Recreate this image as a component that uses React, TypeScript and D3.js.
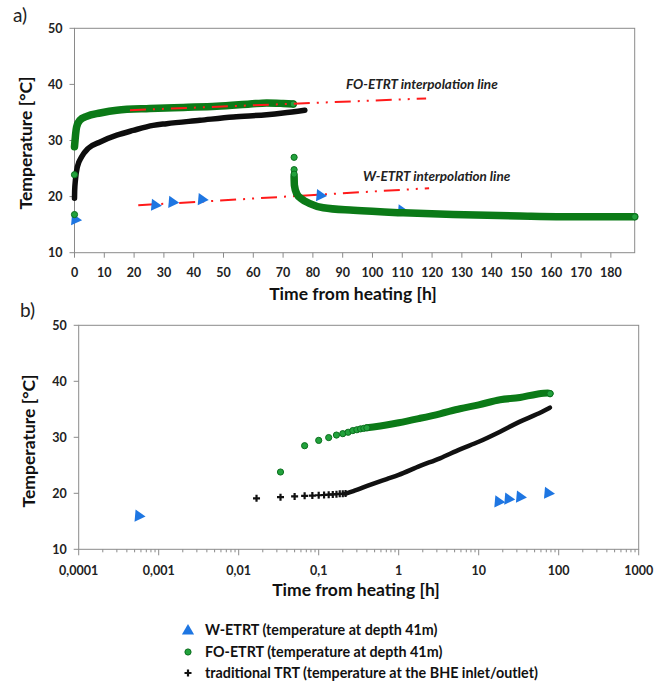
import React from "react";
import * as d3 from "d3";

// ---------- DATA ----------
// Panel a) linear time axis [h]
const xTicksA = [0, 10, 20, 30, 40, 50, 60, 70, 80, 90, 100, 110, 120, 130, 140, 150, 160, 170, 180];
const yTicks = [10, 20, 30, 40, 50];

const trtA: [number, number][] = [
  [0, 19.7], [0.05, 21.0], [0.3, 22.9], [0.95, 25.3], [2.4, 27.1], [4.6, 28.6], [8.6, 29.75],
  [14.2, 30.95], [19.7, 31.8], [26.4, 32.7], [30.9, 33.0], [42.1, 33.6], [53.3, 34.2],
  [64.5, 34.6], [70, 34.9], [77.3, 35.4],
];
const foIsolatedA: [number, number][] = [[0, 16.8], [0, 23.9], [73.7, 27.0], [73.7, 24.8], [73.7, 24.0]];
const foHeatA: [number, number][] = [
  [0, 28.9], [0.2, 30.1], [0.4, 31.25], [0.7, 32.4], [1.8, 33.6], [4.1, 34.3], [8.6, 34.9],
  [14.2, 35.4], [25.3, 35.7], [36.5, 35.9], [47.7, 36.1], [58.9, 36.5], [64.5, 36.7], [70, 36.6], [73.4, 36.5],
];
const foRecoveryA: [number, number][] = [
  [73.7, 23.6], [73.8, 22.0], [74.6, 20.5], [76.2, 19.6], [79, 18.75], [83.5, 18.0], [93.6, 17.55],
  [110.3, 17.1], [127.1, 16.8], [149.5, 16.55], [171.9, 16.4], [188, 16.4],
];
const wA: [number, number][] = [[0.2, 15.9], [27, 18.5], [32.8, 19.0], [42.7, 19.5], [82.4, 20.2], [109.8, 17.5]];
const foLineA: [number, number][] = [[18.6, 35.4], [118, 37.5]];
const wLineA: [number, number][] = [[21.4, 18.45], [119, 21.5]];

// Panel b) log time axis [h]
const xTicksB = [0.0001, 0.001, 0.01, 0.1, 1, 10, 100, 1000];
const xTickLabelsB = ["0,0001", "0,001", "0,01", "0,1", "1", "10", "100", "1000"];

const wB: [number, number][] = [[0.00056, 15.95], [17.6, 18.5], [23.4, 19.0], [32.8, 19.35], [73.5, 20.05]];
const foPointsB: [number, number][] = [
  [0.0333, 23.8], [0.0667, 28.5], [0.1, 29.45], [0.1333, 29.95], [0.1667, 30.4], [0.2, 30.65],
  [0.2333, 30.9], [0.2667, 31.2], [0.3, 31.35], [0.3333, 31.5], [0.3667, 31.6], [0.4, 31.7],
];
const foBandB: [number, number][] = [
  [0.4, 31.7], [0.48, 31.85], [0.7, 32.2], [1, 32.6], [1.85, 33.4], [3.28, 34.2], [5.84, 35.1],
  [10, 35.8], [18.5, 36.7], [32.8, 37.1], [53, 37.7], [73, 37.9], [78, 37.8],
];
const trtPlusB: [number, number][] = [
  [0.0167, 19.1], [0.0333, 19.3], [0.05, 19.45], [0.0667, 19.55], [0.0833, 19.6], [0.1, 19.65],
  [0.1167, 19.7], [0.1333, 19.75], [0.15, 19.8], [0.1667, 19.85], [0.1833, 19.9], [0.2, 19.9], [0.2167, 19.95],
];
const trtLineB: [number, number][] = [
  [0.2167, 19.95], [0.271, 20.4], [0.438, 21.5], [0.708, 22.55], [1, 23.3], [1.85, 24.9], [3.28, 26.25],
  [5.84, 27.85], [10, 29.2], [18.5, 31.0], [32.8, 32.8], [53, 34.1], [77.6, 35.3],
];

const legendItems = [
  "W-ETRT (temperature at depth 41m)",
  "FO-ETRT (temperature at depth 41m)",
  "traditional TRT (temperature at the BHE inlet/outlet)",
];

// ---------- STYLE ----------
const FONT = "Lato, 'Open Sans', sans-serif";
const GRAY = "#8a8a8a";
const BLUE = "#1e76e2";
const GREEN_FILL = "#22a23c";
const GREEN_STROKE = "#0b6f1e";
const GREEN_BAND = "#0b7a17";
const RED = "#ff1a1a";
const TICK_FS = 12.5;
const TITLE_FS = 17.5;

const xA = d3.scaleLinear().domain([0, 188]).range([74.5, 634.7]);
const yA = d3.scaleLinear().domain([10, 50]).range([252.7, 28.3]);
const xB = d3.scaleLog().domain([1e-4, 1e3]).range([78.7, 638.7]);
const yB = d3.scaleLinear().domain([10, 50]).range([549.3, 325.3]);

const triPath = d3.symbol().type(d3.symbolTriangle).size(64)()!;

function Tri({ x, y, rot = 95 }: { x: number; y: number; rot?: number }) {
  return <path d={triPath} transform={`translate(${x},${y}) rotate(${rot})`} fill={BLUE} />;
}
function Plus({ x, y }: { x: number; y: number }) {
  return (
    <path d={`M${x - 3.5},${y}H${x + 3.5}M${x},${y - 3.5}V${y + 3.5}`} stroke="#111" strokeWidth={2.2} />
  );
}
function Dot({ x, y }: { x: number; y: number }) {
  return <circle cx={x} cy={y} r={3.1} fill={GREEN_FILL} stroke={GREEN_STROKE} strokeWidth={1} />;
}

function YAxis({ y, x0 }: { y: any; x0: number }) {
  return (
    <g>
      {yTicks.map((t) => (
        <g key={t}>
          <line x1={x0 - 5} x2={x0} y1={y(t)} y2={y(t)} stroke={GRAY} />
          <text x={x0 - 12} y={y(t)} dy="0.35em" textAnchor="end" fontSize={TICK_FS} fontWeight={700} fill="#222">
            {t}
          </text>
        </g>
      ))}
    </g>
  );
}

export default function App() {
  const lineA = d3.line<[number, number]>().x((d) => xA(d[0])).y((d) => yA(d[1])).curve(d3.curveMonotoneX);
  const straightA = d3.line<[number, number]>().x((d) => xA(d[0])).y((d) => yA(d[1]));
  const lineB = d3.line<[number, number]>().x((d) => xB(d[0])).y((d) => yB(d[1])).curve(d3.curveMonotoneX);

  const minorB: number[] = [];
  xTicksB.slice(0, -1).forEach((dec) => {
    for (let k = 2; k <= 9; k++) minorB.push(dec * k);
  });

  const [ax0, ax1] = xA.range();
  const [ay1, ay0] = yA.range();
  const [bx0, bx1] = xB.range();
  const [by1, by0] = yB.range();

  return (
    <svg width={668} height={684} style={{ position: "absolute", left: 0, top: 0, fontFamily: FONT }}>
      <rect width={668} height={684} fill="#fff" />

      {/* ---------- Panel a ---------- */}
      <text x={13} y={22} fontSize={19} fill="#222">a)</text>
      <rect x={ax0} y={ay0} width={ax1 - ax0} height={ay1 - ay0} fill="none" stroke={GRAY} />
      {xTicksA.map((t) => (
        <g key={t}>
          <line x1={xA(t)} x2={xA(t)} y1={ay1} y2={ay1 + 5} stroke={GRAY} />
          <text x={xA(t)} y={277} textAnchor="middle" fontSize={TICK_FS} fontWeight={700} fill="#222">{t}</text>
        </g>
      ))}
      <YAxis y={yA} x0={ax0} />
      <text transform={`translate(32,143) rotate(-90)`} textAnchor="middle" fontSize={TITLE_FS} fontWeight={700} fill="#111">
        Temperature [°C]
      </text>
      <text x={353} y={300} textAnchor="middle" fontSize={TITLE_FS} fontWeight={700} fill="#111">
        Time from heating [h]
      </text>

      {/* W-ETRT interpolation line */}
      <path d={straightA(wLineA)!} stroke={RED} strokeWidth={2} fill="none" strokeDasharray="16 7 2 7 2 7" />
      {wA.map((d, i) => <Tri key={i} x={xA(d[0])} y={yA(d[1])} />)}
      {/* traditional TRT */}
      <path d={lineA(trtA)!} stroke="#0d0d0d" strokeWidth={5.5} fill="none" strokeLinecap="round" />
      {/* FO-ETRT */}
      <path d={lineA(foHeatA)!} stroke={GREEN_BAND} strokeWidth={7.5} fill="none" strokeLinecap="round" />
      <path d={lineA(foRecoveryA)!} stroke={GREEN_BAND} strokeWidth={7.5} fill="none" strokeLinecap="round" />
      {foIsolatedA.map((d, i) => <Dot key={i} x={xA(d[0])} y={yA(d[1])} />)}
      <Dot x={xA(188)} y={yA(16.4)} />
      <Dot x={xA(73.4)} y={yA(36.5)} />
      {/* FO-ETRT interpolation line */}
      <path d={straightA(foLineA)!} stroke={RED} strokeWidth={2} fill="none" strokeDasharray="16 7 2 7 2 7" />
      <text x={346} y={89} fontSize={13.5} fontWeight={700} fontStyle="italic" fill="#222">FO-ETRT interpolation line</text>
      <text x={363} y={181} fontSize={13.5} fontWeight={700} fontStyle="italic" fill="#222">W-ETRT interpolation line</text>

      {/* ---------- Panel b ---------- */}
      <text x={20} y={317} fontSize={19} fill="#222">b)</text>
      <rect x={bx0} y={by0} width={bx1 - bx0} height={by1 - by0} fill="none" stroke={GRAY} />
      {minorB.map((t, i) => (
        <line key={i} x1={xB(t)} x2={xB(t)} y1={by1} y2={by1 + 3} stroke={GRAY} />
      ))}
      {xTicksB.map((t, i) => (
        <g key={t}>
          <line x1={xB(t)} x2={xB(t)} y1={by1} y2={by1 + 6} stroke={GRAY} />
          <text x={xB(t)} y={575} textAnchor="middle" fontSize={TICK_FS} fontWeight={700} fill="#222">{xTickLabelsB[i]}</text>
        </g>
      ))}
      <YAxis y={yB} x0={bx0} />
      <text transform={`translate(35,441) rotate(-90)`} textAnchor="middle" fontSize={TITLE_FS} fontWeight={700} fill="#111">
        Temperature [°C]
      </text>
      <text x={356} y={596} textAnchor="middle" fontSize={TITLE_FS} fontWeight={700} fill="#111">
        Time from heating [h]
      </text>

      {trtPlusB.map((d, i) => <Plus key={i} x={xB(d[0])} y={yB(d[1])} />)}
      <path d={lineB(trtLineB)!} stroke="#111" strokeWidth={4.5} fill="none" strokeLinecap="round" />
      <path d={lineB(foBandB)!} stroke={GREEN_BAND} strokeWidth={7} fill="none" strokeLinecap="round" />
      {foPointsB.map((d, i) => <Dot key={i} x={xB(d[0])} y={yB(d[1])} />)}
      <Dot x={xB(78)} y={yB(37.8)} />
      {wB.map((d, i) => <Tri key={i} x={xB(d[0])} y={yB(d[1])} />)}

      {/* ---------- Legend ---------- */}
      <Tri x={188} y={631} rot={0} />
      <Dot x={188} y={652} />
      <Plus x={188} y={673} />
      {legendItems.map((t, i) => (
        <text key={t} x={205} y={630 + i * 21.5} dy="0.35em" fontSize={14.3} fontWeight={700} fill="#111">{t}</text>
      ))}
    </svg>
  );
}
